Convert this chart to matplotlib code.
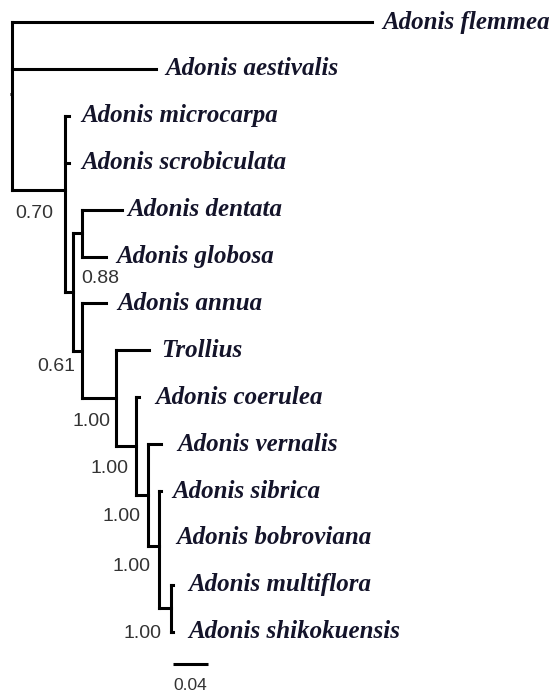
import matplotlib
matplotlib.use("Agg")
import matplotlib.pyplot as plt
import numpy as np

# ---------------- data ----------------
tip_names = ["Adonis flemmea", "Adonis aestivalis", "Adonis microcarpa",
             "Adonis scrobiculata", "Adonis dentata", "Adonis globosa",
             "Adonis annua", "Trollius", "Adonis coerulea", "Adonis vernalis",
             "Adonis sibrica", "Adonis bobroviana", "Adonis multiflora",
             "Adonis shikokuensis"]
tip_parents = ["root", "root", "A", "A", "C", "C", "D", "E", "F", "G",
               "H", "H", "I", "I"]
tip_lengths = [0.411, 0.165, 0.004, 0.004, 0.046, 0.028, 0.028, 0.037,
               0.003, 0.015, 0.002, 0.0, 0.002, 0.002]

internal_names = ["root", "A", "B", "C", "D", "E", "F", "G", "H", "I"]
internal_parents = [None, "root", "A", "B", "B", "D", "E", "F", "G", "H"]
internal_lengths = [0.0, 0.061, 0.009, 0.010, 0.010, 0.039, 0.023, 0.013,
                    0.013, 0.014]
support_nodes = ["A", "C", "D", "E", "F", "G", "H", "I"]
support_values = ["0.70", "0.88", "0.61", "1.00", "1.00", "1.00", "1.00", "1.00"]

scale_value = 0.04
scale_label = "0.04"

# ---------------- layout / style ----------------
# label offsets in pixels (dx, dy, ha) relative to node
support_offsets = {"A": (-12, 23, "right"), "C": (-1, 45, "left"),
                   "D": (-7, 16, "right"), "E": (-6, 23, "right"),
                   "F": (-8, 22, "right"), "G": (-7, 22, "right"),
                   "H": (-8, 21, "right"), "I": (-10, 25, "right")}
tip_label_gap = [11, 9, 12, 12, 5, 10, 11, 13, 16, 17, 12, 17, 15, 15]

W, H = 558, 693
DPI = 100
px_per_unit = 875.0
x0_px = 12.0
y0_px = 22.0
dy_px = 46.9

# ---------------- build tree ----------------
parent = {}
length = {}
for n, p, l in zip(internal_names, internal_parents, internal_lengths):
    parent[n] = p
    length[n] = l
for n, p, l in zip(tip_names, tip_parents, tip_lengths):
    parent[n] = p
    length[n] = l

children = {n: [] for n in internal_names}
for n in internal_names[1:]:
    children[parent[n]].append(n)
for t in tip_names:
    children[parent[t]].append(t)

ypos = {t: float(i) for i, t in enumerate(tip_names)}
xpos = {"root": 0.0}


def set_x(n):
    for c in children.get(n, []):
        xpos[c] = xpos[n] + length[c]
        set_x(c)


def set_y(n):
    if n in ypos:
        return ypos[n]
    ys = [set_y(c) for c in children[n]]
    ypos[n] = float(np.mean(ys))
    return ypos[n]


set_x("root")
set_y("root")

# ---------------- draw ----------------
fig = plt.figure(figsize=(W / DPI, H / DPI), dpi=DPI)
ax = fig.add_axes([0, 0, 1, 1])
ax.set_xlim(-x0_px / px_per_unit, (W - x0_px) / px_per_unit)
ax.set_ylim((H - y0_px) / dy_px, -y0_px / dy_px)
ax.axis("off")

lw = 2.2
col = "black"
for n in internal_names:
    ys = [ypos[c] for c in children[n]]
    ax.plot([xpos[n], xpos[n]], [min(ys), max(ys)], color=col, lw=lw,
            solid_capstyle="projecting")
for n in internal_names[1:] + tip_names:
    p = parent[n]
    if xpos[n] > xpos[p]:
        ax.plot([xpos[p], xpos[n]], [ypos[n], ypos[n]], color=col, lw=lw,
                solid_capstyle="projecting")
# root stub
ax.plot([xpos["root"] - 0.002, xpos["root"]], [ypos["root"]] * 2,
        color=col, lw=lw, solid_capstyle="butt")

# tip labels
for t, gap in zip(tip_names, tip_label_gap):
    ax.annotate(t, (xpos[t], ypos[t]), xytext=(gap, 0),
                textcoords="offset pixels", ha="left", va="center",
                fontsize=18, fontfamily="Liberation Serif",
                fontweight="bold", fontstyle="italic", color="#14142a")

# support values
for n, v in zip(support_nodes, support_values):
    dx, dyy, ha = support_offsets[n]
    ax.annotate(v, (xpos[n], ypos[n]), xytext=(dx, -dyy),
                textcoords="offset pixels", ha=ha, va="center",
                fontsize=14, fontfamily="Liberation Sans", color="#333333")

# scale bar
sb_x = (173 - x0_px) / px_per_unit
sb_y = (664 - y0_px) / dy_px
ax.plot([sb_x, sb_x + scale_value], [sb_y, sb_y], color=col, lw=lw,
        solid_capstyle="butt")
ax.annotate(scale_label, (sb_x + scale_value / 2, sb_y), xytext=(0, -21),
            textcoords="offset pixels", ha="center", va="center",
            fontsize=12.5, fontfamily="Liberation Sans", color="#333333")

fig.savefig("out.png", dpi=DPI)
